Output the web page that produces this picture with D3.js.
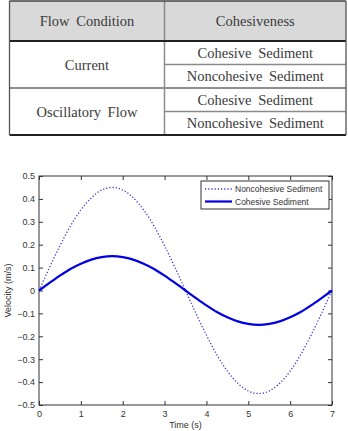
<!DOCTYPE html>
<html lang="en">
<head>
    <meta charset="UTF-8">
    <title>Flow condition and velocity</title>
    <script src="https://d3js.org/d3.v7.min.js"></script>
    <style>
        body {
            margin: 0;
            padding: 0;
            background: white;
        }
        svg {
            display: block;
        }
        .cell-text {
            font-family: 'Liberation Serif', 'DejaVu Serif', serif;
            font-size: 14.5px;
            word-spacing: 3px;
            fill: #3a3a3a;
        }
        .tick-label, .axis-title, .legend-text {
            font-family: 'Liberation Sans', Arial, sans-serif;
            fill: #333;
        }
    </style>
</head>
<body>
    <svg id="chart" width="348" height="431"></svg>

    <script type="text/javascript">
        // table content
        const tableHeaders = ["Flow Condition", "Cohesiveness"];
        const flowConditions = ["Current", "Oscillatory Flow"];
        const cohesivenessTypes = ["Cohesive Sediment", "Noncohesive Sediment"];

        // velocity, every 0.25 s
        const timeValues = [0, 0.25, 0.5, 0.75, 1, 1.25, 1.5, 1.75, 2, 2.25, 2.5, 2.75, 3, 3.25, 3.5,
            3.75, 4, 4.25, 4.5, 4.75, 5, 5.25, 5.5, 5.75, 6, 6.25, 6.5, 6.75, 7];
        const noncohesiveVelocity = [0, 0.100, 0.195, 0.281, 0.352, 0.405, 0.439, 0.450, 0.439, 0.405, 0.352, 0.281, 0.195, 0.100, 0,
            -0.100, -0.195, -0.281, -0.352, -0.405, -0.439, -0.450, -0.439, -0.405, -0.352, -0.281, -0.195, -0.100, 0];
        const cohesiveVelocity = [0, 0.033, 0.065, 0.094, 0.117, 0.135, 0.146, 0.150, 0.146, 0.135, 0.117, 0.094, 0.065, 0.033, 0,
            -0.033, -0.065, -0.094, -0.117, -0.135, -0.146, -0.150, -0.146, -0.135, -0.117, -0.094, -0.065, -0.033, 0];
        const xTicks = [0, 1, 2, 3, 4, 5, 6, 7];
        const yTicks = [-0.5, -0.4, -0.3, -0.2, -0.1, 0, 0.1, 0.2, 0.3, 0.4, 0.5];
        const legendLabels = ["Noncohesive Sediment", "Cohesive Sediment"];

        const svg = d3.select("#chart");

        // ---------- table ----------
        const tLeft = 9.5, tRight = 346, tMid = 164.5;
        const tTop = 1, headBottom = 41;
        const rowH = 23.5;
        const table = svg.append("g");

        table.append("rect")
            .attr("x", tLeft).attr("y", tTop)
            .attr("width", tRight - tLeft).attr("height", headBottom - tTop)
            .attr("fill", "#d9d9d9");

        // headers
        table.selectAll("text.head")
            .data(tableHeaders)
            .join("text")
            .attr("class", "cell-text head")
            .attr("x", (d, i) => i === 0 ? (tLeft + tMid) / 2 : (tMid + tRight) / 2)
            .attr("y", (tTop + headBottom) / 2 + 5)
            .attr("text-anchor", "middle")
            .text(d => d);

        // body rows
        flowConditions.forEach((fc, gi) => {
            const gTop = headBottom + gi * rowH * 2;
            table.append("text")
                .attr("class", "cell-text")
                .attr("x", (tLeft + tMid) / 2)
                .attr("y", gTop + rowH + 5)
                .attr("text-anchor", "middle")
                .text(fc);
            cohesivenessTypes.forEach((ct, ri) => {
                table.append("text")
                    .attr("class", "cell-text")
                    .attr("x", (tMid + tRight) / 2)
                    .attr("y", gTop + ri * rowH + rowH / 2 + 5)
                    .attr("text-anchor", "middle")
                    .text(ct);
            });
            // thin line between the two sediment rows
            table.append("line")
                .attr("x1", tMid).attr("x2", tRight)
                .attr("y1", gTop + rowH).attr("y2", gTop + rowH)
                .attr("stroke", "#8a8a8a").attr("stroke-width", 1.3);
            // line below the group
            if (gi < flowConditions.length - 1) {
                table.append("line")
                    .attr("x1", tLeft).attr("x2", tRight)
                    .attr("y1", gTop + rowH * 2).attr("y2", gTop + rowH * 2)
                    .attr("stroke", "#6a6a6a").attr("stroke-width", 1.3);
            }
        });

        const tBottom = headBottom + rowH * 2 * flowConditions.length;

        // column divider and borders
        table.append("line")
            .attr("x1", tMid).attr("x2", tMid)
            .attr("y1", tTop).attr("y2", tBottom)
            .attr("stroke", "#8a8a8a").attr("stroke-width", 1.5);
        table.append("line")
            .attr("x1", tLeft).attr("x2", tRight)
            .attr("y1", headBottom).attr("y2", headBottom)
            .attr("stroke", "#222").attr("stroke-width", 2);
        table.append("line")
            .attr("x1", tLeft).attr("x2", tRight)
            .attr("y1", tBottom).attr("y2", tBottom)
            .attr("stroke", "#222").attr("stroke-width", 2);
        table.append("line")
            .attr("x1", tLeft).attr("x2", tRight)
            .attr("y1", tTop).attr("y2", tTop)
            .attr("stroke", "#444").attr("stroke-width", 1.5);
        table.append("line")
            .attr("x1", tLeft).attr("x2", tLeft)
            .attr("y1", tTop).attr("y2", tBottom)
            .attr("stroke", "#555").attr("stroke-width", 1.3);
        table.append("line")
            .attr("x1", tRight).attr("x2", tRight)
            .attr("y1", tTop).attr("y2", tBottom)
            .attr("stroke", "#555").attr("stroke-width", 1.3);

        // ---------- chart ----------
        const plot = {left: 39, right: 332, top: 176, bottom: 405};
        const x = d3.scaleLinear().domain([0, 7]).range([plot.left, plot.right]);
        const y = d3.scaleLinear().domain([-0.5, 0.5]).range([plot.bottom, plot.top]);

        const chart = svg.append("g");

        chart.append("rect")
            .attr("x", plot.left).attr("y", plot.top)
            .attr("width", plot.right - plot.left).attr("height", plot.bottom - plot.top)
            .attr("fill", "white").attr("stroke", "#333").attr("stroke-width", 1);

        // axes with inward ticks on all four sides
        const tickLen = 4;
        const axisStyle = g => {
            g.select(".domain").remove();
            g.selectAll(".tick line").attr("stroke", "#333");
            g.selectAll(".tick text").attr("class", "tick-label").attr("font-size", 9).attr("fill", "#333");
        };

        chart.append("g")
            .attr("transform", `translate(0,${plot.bottom})`)
            .call(d3.axisBottom(x).tickValues(xTicks).tickFormat(d3.format("d")).tickSizeInner(-tickLen).tickSizeOuter(0).tickPadding(6))
            .call(axisStyle);
        chart.append("g")
            .attr("transform", `translate(0,${plot.top})`)
            .call(d3.axisTop(x).tickValues(xTicks).tickFormat("").tickSizeInner(-tickLen).tickSizeOuter(0))
            .call(axisStyle);
        chart.append("g")
            .attr("transform", `translate(${plot.left},0)`)
            .call(d3.axisLeft(y).tickValues(yTicks).tickFormat(d => d === 0 ? "0" : d3.format(".1f")(d)).tickSizeInner(-tickLen).tickSizeOuter(0).tickPadding(4))
            .call(axisStyle);
        chart.append("g")
            .attr("transform", `translate(${plot.right},0)`)
            .call(d3.axisRight(y).tickValues(yTicks).tickFormat("").tickSizeInner(-tickLen).tickSizeOuter(0))
            .call(axisStyle);

        chart.append("text")
            .attr("class", "axis-title")
            .attr("x", (plot.left + plot.right) / 2)
            .attr("y", 428)
            .attr("text-anchor", "middle")
            .attr("font-size", 9)
            .text("Time (s)");
        chart.append("text")
            .attr("class", "axis-title")
            .attr("transform", `translate(11,${(plot.top + plot.bottom) / 2}) rotate(-90)`)
            .attr("text-anchor", "middle")
            .attr("font-size", 9)
            .text("Velocity (m/s)");

        const line = d3.line()
            .x((d, i) => x(timeValues[i]))
            .y(d => y(d))
            .curve(d3.curveMonotoneX);

        chart.append("path")
            .datum(noncohesiveVelocity)
            .attr("d", line)
            .attr("fill", "none")
            .attr("stroke", "#3535cc")
            .attr("stroke-width", 1.3)
            .attr("stroke-dasharray", "1.2,2");

        chart.append("path")
            .datum(cohesiveVelocity)
            .attr("d", line)
            .attr("fill", "none")
            .attr("stroke", "#0000e0")
            .attr("stroke-width", 2.2);

        // legend
        const legend = chart.append("g").attr("transform", "translate(201,181)");
        legend.append("rect")
            .attr("width", 128).attr("height", 28)
            .attr("fill", "white").attr("stroke", "#333").attr("stroke-width", 1);

        const legendStyles = [
            {color: "#3535cc", width: 1.3, dash: "1.2,2"},
            {color: "#0000e0", width: 2.2, dash: null}
        ];
        legendLabels.forEach((label, i) => {
            const ly = 8 + i * 12.5;
            legend.append("line")
                .attr("x1", 4).attr("x2", 31)
                .attr("y1", ly).attr("y2", ly)
                .attr("stroke", legendStyles[i].color)
                .attr("stroke-width", legendStyles[i].width)
                .attr("stroke-dasharray", legendStyles[i].dash);
            legend.append("text")
                .attr("class", "legend-text")
                .attr("x", 34).attr("y", ly + 3)
                .attr("font-size", 8.5)
                .text(label);
        });
    </script>
</body>
</html>
